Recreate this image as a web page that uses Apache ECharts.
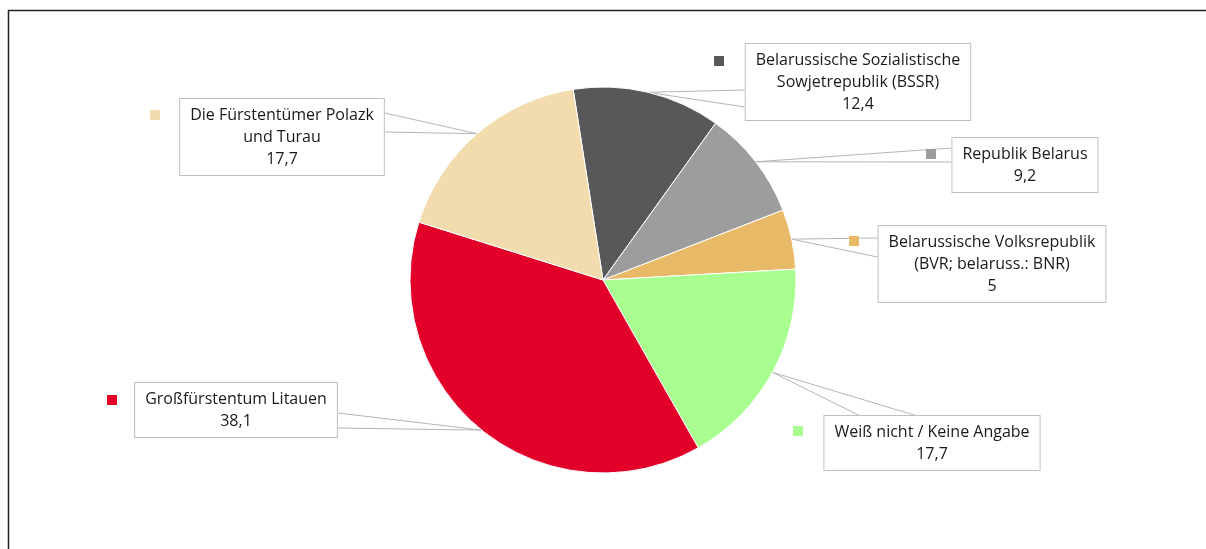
<!DOCTYPE html>
<html>
<head>
<meta charset="utf-8">
<script src="https://cdn.jsdelivr.net/npm/echarts@6/dist/echarts.min.js"></script>
<style>
  html, body { margin: 0; padding: 0; background: #fff; }
  #chart { width: 1206px; height: 549px; }
</style>
</head>
<body>
<div id="chart"></div>
<script>
// data, clockwise from the top
var categories = [
    'Belarussische Sozialistische\nSowjetrepublik (BSSR)',
    'Republik Belarus',
    'Belarussische Volksrepublik\n(BVR; belaruss.: BNR)',
    'Weiß nicht / Keine Angabe',
    'Großfürstentum Litauen',
    'Die Fürstentümer Polazk\nund Turau'
];
var values = [12.4, 9.2, 5, 17.7, 38.1, 17.7];
var colors = ['#58585a', '#9d9d9d', '#e8b966', '#a8ff90', '#e2002b', '#f2dcae'];

// callout boxes: [center x, top y]
var boxes = [[858, 44], [1025, 138], [992, 226], [932, 416], [236, 383], [282, 99]];
// wedge of the callout: [side, offset 1, offset 2]
var wedges = [['left', 46, 63], ['left', 10, 24], ['left', 12, 31], ['top', 37, 94], ['right', 30, 45], ['right', 14, 33]];
// little colour squares next to the boxes
var squares = [[714, 56], [926, 149], [849, 236], [793, 426], [107, 395], [150, 110]];

var chart = echarts.init(document.getElementById('chart'));

function fmt(v) {
    return String(v).replace('.', ',');
}

function wedgePoints(i, rect, apex) {
    var w = wedges[i];
    var L = boxes[i][0] - rect.width / 2, T = boxes[i][1], R = L + rect.width;
    var p1, p2;
    if (w[0] === 'left') {
        p1 = [L, T + w[1]]; p2 = [L, T + w[2]];
    } else if (w[0] === 'right') {
        p1 = [R, T + w[1]]; p2 = [R, T + w[2]];
    } else {
        p1 = [L + w[1], T]; p2 = [L + w[2], T];
    }
    return [p1, apex, p2];
}

var legends = categories.map(function (name, i) {
    return {
        data: [name],
        left: squares[i][0],
        top: squares[i][1],
        padding: 0,
        itemWidth: 10,
        itemHeight: 10,
        icon: 'rect',
        selectedMode: false,
        itemStyle: { borderWidth: 0 },
        formatter: function () { return ''; }
    };
});

var option = {
    animation: false,
    color: colors,
    legend: legends,
    graphic: [{
        type: 'polyline',
        shape: { points: [[8.5, 549], [8.5, 10.5], [1206, 10.5]] },
        style: { stroke: '#222', lineWidth: 1.5, fill: null }
    }],
    series: [{
        type: 'pie',
        center: [603, 280],
        radius: 193,
        startAngle: 98.9,
        avoidLabelOverlap: false,
        itemStyle: { borderColor: '#fff', borderWidth: 1 },
        label: {
            show: true,
            position: 'outside',
            fontFamily: 'Open Sans',
            fontSize: 16,
            lineHeight: 22,
            color: '#1a1a1a',
            backgroundColor: '#fff',
            borderColor: '#bfbfbf',
            borderWidth: 1,
            padding: [5, 10],
            formatter: function (p) {
                return p.name + '\n' + fmt(p.value);
            }
        },
        labelLine: {
            show: true,
            smooth: false,
            lineStyle: { color: '#b5b5b5', width: 1 }
        },
        labelLayout: function (p) {
            var i = p.dataIndex;
            var out = {
                x: boxes[i][0],
                y: boxes[i][1],
                align: 'center',
                verticalAlign: 'top'
            };
            if (p.labelLinePoints) {
                out.labelLinePoints = wedgePoints(i, p.labelRect, p.labelLinePoints[0]);
            }
            return out;
        },
        data: categories.map(function (name, i) {
            return { name: name, value: values[i] };
        })
    }]
};

chart.setOption(option);
</script>
</body>
</html>
